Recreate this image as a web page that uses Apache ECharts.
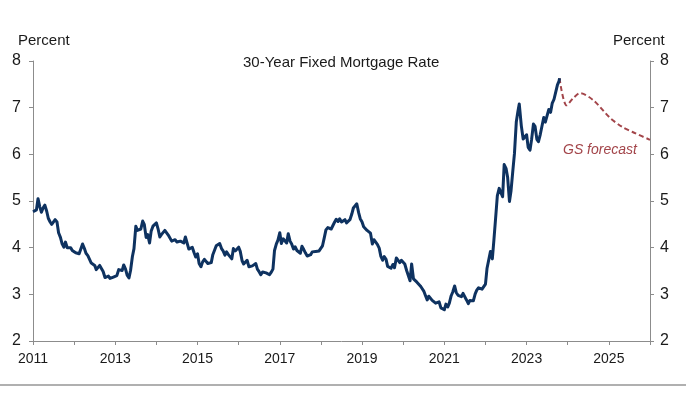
<!DOCTYPE html>
<html>
<head>
<meta charset="utf-8">
<script src="https://cdn.jsdelivr.net/npm/echarts@6/dist/echarts.min.js"></script>
<style>
html,body{margin:0;padding:0;background:#fff;}
#chart{width:700px;height:394px;}
</style>
</head>
<body>
<div id="chart"></div>
<script>
// Actual 30-year fixed mortgage rate (dates and values)
var actualDates = [
'2011-01-01','2011-01-15','2011-02-01','2011-02-15','2011-03-01','2011-03-15','2011-04-01','2011-04-15','2011-05-01','2011-05-15','2011-06-01','2011-06-15','2011-07-01','2011-07-15','2011-08-01','2011-08-15','2011-09-01','2011-09-15','2011-10-01','2011-10-15','2011-11-01','2011-11-15','2011-12-01','2011-12-15',
'2012-01-01','2012-01-15','2012-02-01','2012-02-15','2012-03-01','2012-03-15','2012-04-01','2012-04-15','2012-05-01','2012-05-15','2012-06-01','2012-06-15','2012-07-01','2012-07-15','2012-08-01','2012-08-15','2012-09-01','2012-09-15','2012-10-01','2012-10-15','2012-11-01','2012-11-15','2012-12-01','2012-12-15',
'2013-01-01','2013-01-15','2013-02-01','2013-02-15','2013-03-01','2013-03-15','2013-04-01','2013-04-15','2013-05-01','2013-05-15','2013-06-01','2013-06-15','2013-07-01','2013-07-15','2013-08-01','2013-08-15','2013-09-01','2013-09-15','2013-10-01','2013-10-15','2013-11-01','2013-11-15','2013-12-01','2013-12-15',
'2014-01-01','2014-01-15','2014-02-01','2014-02-15','2014-03-01','2014-03-15','2014-04-01','2014-04-15','2014-05-01','2014-05-15','2014-06-01','2014-06-15','2014-07-01','2014-07-15','2014-08-01','2014-08-15','2014-09-01','2014-09-15','2014-10-01','2014-10-15','2014-11-01','2014-11-15','2014-12-01','2014-12-15',
'2015-01-01','2015-01-15','2015-02-01','2015-02-15','2015-03-01','2015-03-15','2015-04-01','2015-04-15','2015-05-01','2015-05-15','2015-06-01','2015-06-15','2015-07-01','2015-07-15','2015-08-01','2015-08-15','2015-09-01','2015-09-15','2015-10-01','2015-10-15','2015-11-01','2015-11-15','2015-12-01','2015-12-15',
'2016-01-01','2016-01-15','2016-02-01','2016-02-15','2016-03-01','2016-03-15','2016-04-01','2016-04-15','2016-05-01','2016-05-15','2016-06-01','2016-06-15','2016-07-01','2016-07-15','2016-08-01','2016-08-15','2016-09-01','2016-09-15','2016-10-01','2016-10-15','2016-11-01','2016-11-15','2016-12-01','2016-12-15',
'2017-01-01','2017-01-15','2017-02-01','2017-02-15','2017-03-01','2017-03-15','2017-04-01','2017-04-15','2017-05-01','2017-05-15','2017-06-01','2017-06-15','2017-07-01','2017-07-15','2017-08-01','2017-08-15','2017-09-01','2017-09-15','2017-10-01','2017-10-15','2017-11-01','2017-11-15','2017-12-01','2017-12-15',
'2018-01-01','2018-01-15','2018-02-01','2018-02-15','2018-03-01','2018-03-15','2018-04-01','2018-04-15','2018-05-01','2018-05-15','2018-06-01','2018-06-15','2018-07-01','2018-07-15','2018-08-01','2018-08-15','2018-09-01','2018-09-15','2018-10-01','2018-10-15','2018-11-01','2018-11-15','2018-12-01','2018-12-15',
'2019-01-01','2019-01-15','2019-02-01','2019-02-15','2019-03-01','2019-03-15','2019-04-01','2019-04-15','2019-05-01','2019-05-15','2019-06-01','2019-06-15','2019-07-01','2019-07-15','2019-08-01','2019-08-15','2019-09-01','2019-09-15','2019-10-01','2019-10-15','2019-11-01','2019-11-15','2019-12-01','2019-12-15',
'2020-01-01','2020-01-15','2020-02-01','2020-02-15','2020-03-01','2020-03-15','2020-04-01','2020-04-15','2020-05-01','2020-05-15','2020-06-01','2020-06-15','2020-07-01','2020-07-15','2020-08-01','2020-08-15','2020-09-01','2020-09-15','2020-10-01','2020-10-15','2020-11-01','2020-11-15','2020-12-01','2020-12-15',
'2021-01-01','2021-01-07','2021-01-15','2021-02-01','2021-02-15','2021-03-01','2021-03-15','2021-04-01','2021-04-15','2021-05-01','2021-05-15','2021-06-01','2021-06-15','2021-07-01','2021-07-15','2021-08-01','2021-08-15','2021-09-01','2021-09-15','2021-10-01','2021-10-15','2021-11-01','2021-11-15','2021-12-01','2021-12-15',
'2022-01-01','2022-01-15','2022-02-01','2022-02-15','2022-03-01','2022-03-15','2022-04-01','2022-04-15','2022-05-01','2022-05-15','2022-06-01','2022-06-15','2022-06-23','2022-07-01','2022-07-15','2022-08-01','2022-08-15','2022-09-01','2022-09-15','2022-10-01','2022-10-15','2022-10-27','2022-11-10','2022-11-15','2022-12-01','2022-12-15',
'2023-01-01','2023-01-15','2023-02-01','2023-02-15','2023-03-01','2023-03-15','2023-04-01','2023-04-15','2023-05-01','2023-05-15','2023-06-01','2023-06-15','2023-07-01','2023-07-15','2023-08-01','2023-08-15','2023-09-01','2023-09-15','2023-10-01','2023-10-15','2023-10-20'
];
var actualValues = [
4.77,4.74,4.81,5.05,4.87,4.76,4.86,4.91,4.78,4.63,4.55,4.50,4.51,4.60,4.55,4.32,4.22,4.09,4.01,4.12,4.00,3.99,4.00,3.94,
3.95,3.89,3.87,3.87,3.90,4.08,3.98,3.88,3.83,3.79,3.67,3.71,3.62,3.53,3.49,3.62,3.55,3.49,3.36,3.39,3.39,3.34,3.32,3.37,
3.35,3.40,3.53,3.56,3.51,3.63,3.54,3.41,3.35,3.51,3.81,3.98,4.46,4.37,4.39,4.40,4.57,4.50,4.22,4.28,4.10,4.35,4.46,4.47,
4.53,4.41,4.23,4.28,4.32,4.37,4.41,4.27,4.29,4.14,4.12,4.17,4.12,4.15,4.14,4.10,4.10,4.23,4.19,3.97,3.98,4.01,3.89,3.80,
3.87,3.66,3.59,3.69,3.75,3.78,3.66,3.67,3.68,3.85,3.87,4.04,4.08,4.09,3.98,3.93,3.84,3.91,3.85,3.82,3.76,3.98,3.93,3.97,
4.01,3.92,3.72,3.65,3.62,3.73,3.59,3.58,3.61,3.57,3.66,3.54,3.48,3.42,3.48,3.45,3.46,3.50,3.42,3.47,3.54,3.94,4.08,4.16,
4.32,4.09,4.19,4.15,4.10,4.30,4.14,4.08,3.97,4.02,3.94,3.91,3.88,4.03,3.96,3.89,3.82,3.78,3.85,3.91,3.94,3.92,3.90,3.93,
3.99,4.04,4.22,4.38,4.43,4.45,4.40,4.47,4.55,4.61,4.56,4.62,4.55,4.53,4.60,4.53,4.52,4.60,4.72,4.85,4.83,4.94,4.75,4.62,
4.55,4.45,4.46,4.37,4.41,4.31,4.08,4.17,4.14,4.07,3.99,3.82,3.73,3.81,3.75,3.60,3.58,3.56,3.64,3.57,3.78,3.75,3.68,3.73,
3.72,3.65,3.51,3.47,3.29,3.65,3.33,3.31,3.26,3.24,3.18,3.13,3.07,2.98,2.88,2.96,2.93,2.87,2.88,2.81,2.78,2.84,2.71,2.67,
2.67,2.65,2.79,2.73,2.81,2.97,3.05,3.18,3.04,2.98,2.94,2.95,3.02,2.98,2.88,2.80,2.87,2.87,2.86,3.01,3.09,3.14,3.10,3.11,3.12,
3.22,3.56,3.55,3.92,3.76,4.16,4.67,5.11,5.27,5.25,5.09,5.78,5.81,5.70,5.51,4.99,5.22,5.66,6.02,6.70,6.92,7.08,7.08,6.61,6.33,6.31,
6.42,6.15,6.09,6.32,6.65,6.60,6.32,6.27,6.43,6.39,6.79,6.69,6.71,6.96,6.90,7.09,7.18,7.18,7.49,7.57,7.63
];
// GS forecast (decimal years and values)
var forecastYears  = [2023.80, 2023.97, 2024.15, 2024.30, 2024.62, 2025.03, 2025.32, 2025.65, 2026.00];
var forecastValues = [7.63,    7.05,    7.22,    7.31,    7.16,    6.78,    6.59,    6.45,    6.31];

var xTicksStart = 2011, xTicksEnd = 2026;
var yMin = 2, yMax = 8;

function toYear(s){
  var p = s.split('-');
  return (+p[0]) + (+p[1]-1)/12 + (+p[2]-1)/365;
}
var actualData = actualDates.map(function(d,i){ return [toYear(d), actualValues[i]]; });
var forecastData = forecastYears.map(function(y,i){ return [y, forecastValues[i]]; });

var chart = echarts.init(document.getElementById('chart'));
var txt = '#1a1a1a', axisCol = '#8c8c8c';
var font = 'Liberation Sans, Arial, sans-serif';
function yAxisCfg(pos){
  return {
    type:'value', position:pos, min:yMin, max:yMax, interval:1,
    axisLine:{show:true, lineStyle:{color:axisCol, width:1}},
    axisTick:{show:true, length:4, lineStyle:{color:axisCol}},
    axisLabel:{color:txt, fontSize:16, fontFamily:font, margin:pos === 'left' ? 12 : 10},
    splitLine:{show:false}
  };
}
chart.setOption({
  animation:false,
  backgroundColor:'#fff',
  grid:{left:33, right:50, top:61, bottom:53},
  xAxis:{
    type:'value', min:xTicksStart, max:xTicksEnd, interval:1,
    axisLine:{show:true, onZero:false, lineStyle:{color:axisCol, width:1}},
    axisTick:{show:true, length:4, lineStyle:{color:axisCol}},
    axisLabel:{color:txt, fontSize:14, fontFamily:font, margin:11,
      formatter:function(v){ return ((v - xTicksStart) % 2 === 0) ? String(v) : ''; }},
    splitLine:{show:false}
  },
  yAxis:[yAxisCfg('left'), yAxisCfg('right')],
  graphic:[
    {type:'text', left:18, top:33, style:{text:'Percent', fill:txt, font:'15px '+font}},
    {type:'text', left:613, top:33, style:{text:'Percent', fill:txt, font:'15px '+font}},
    {type:'text', left:243, top:55, style:{text:'30-Year Fixed Mortgage Rate', fill:txt, font:'15px '+font}},
    {type:'text', left:563, top:143, style:{text:'GS forecast', fill:'#a3454a', font:'italic 14px '+font}},
    {type:'line', shape:{x1:0, y1:385, x2:686, y2:385}, style:{stroke:'#b0b0b0', lineWidth:2}}
  ],
  series:[
    {type:'line', name:'Actual', data:actualData, yAxisIndex:0, showSymbol:false, symbol:'none',
     lineStyle:{color:'#0e3260', width:3, join:'round'}, z:3},
    {type:'line', name:'GS forecast', data:forecastData, yAxisIndex:0, showSymbol:false, symbol:'none',
     smooth:0.3, lineStyle:{color:'#a3454a', width:2, type:[5,3]}, z:2}
  ]
});
</script>
</body>
</html>
